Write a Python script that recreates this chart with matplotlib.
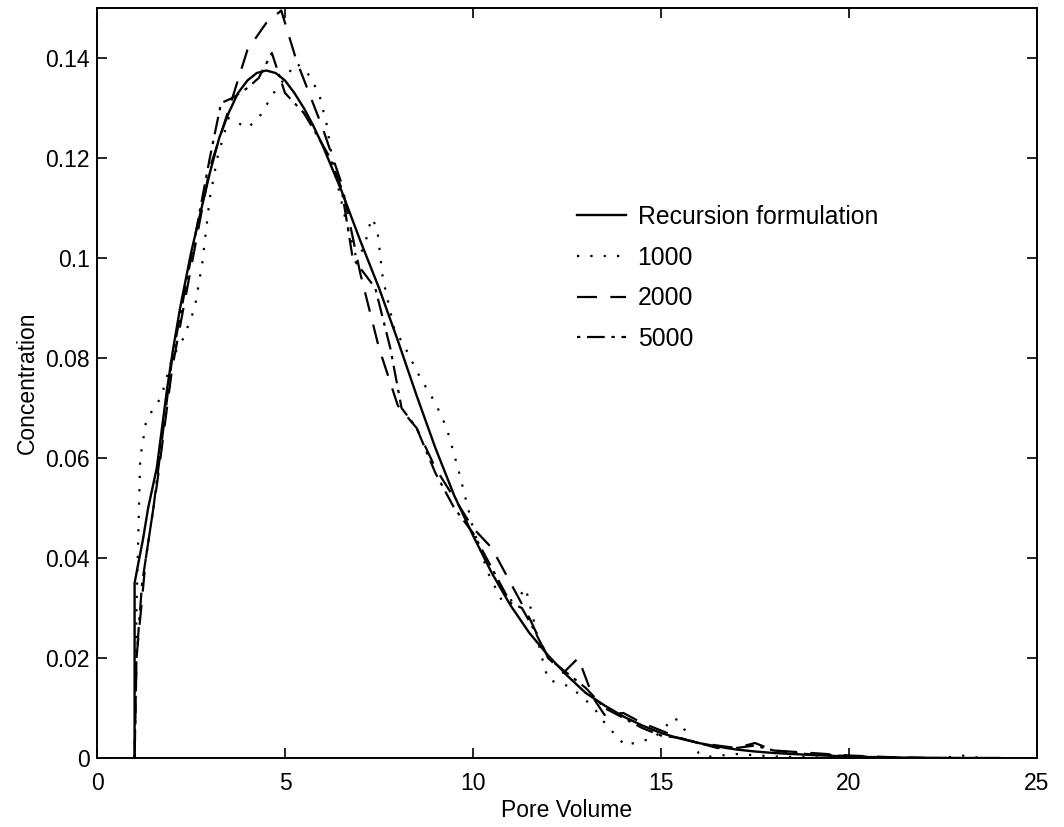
import matplotlib
matplotlib.use("Agg")
import matplotlib.pyplot as plt
from matplotlib.ticker import FuncFormatter

plt.rcParams["font.family"] = ["Liberation Sans", "DejaVu Sans"]

# recursion formulation (smooth curve)
rec_x = [1.0, 1.0, 1.1, 1.22, 1.36, 1.59, 1.86, 2.02, 2.21, 2.5, 2.75, 3.0, 3.25, 3.5,
         3.75, 4.0, 4.25, 4.5, 4.75, 5.0, 5.25, 5.5, 5.75, 6.0, 6.5, 7.0, 7.5, 8.0,
         8.5, 9.0, 9.5, 10.0, 10.5, 11.0, 11.5, 12.0, 12.5, 13.0, 13.5, 14.0, 14.5,
         15.0, 15.5, 16.0, 16.5, 17.0, 17.5, 18.0, 19.0, 20.0, 21.0, 22.0, 23.0, 24.0]
rec_y = [0.0, 0.035, 0.039, 0.0436, 0.050, 0.058, 0.0736, 0.0816, 0.090, 0.101, 0.109,
         0.117, 0.124, 0.129, 0.133, 0.1355, 0.137, 0.1375, 0.137, 0.1355, 0.133, 0.130,
         0.1265, 0.1225, 0.1135, 0.1035, 0.094, 0.0835, 0.0725, 0.062, 0.0525, 0.0445,
         0.037, 0.0305, 0.025, 0.0205, 0.0165, 0.013, 0.0105, 0.0083, 0.0065, 0.005,
         0.0039, 0.003, 0.0023, 0.0017, 0.0013, 0.001, 0.0006, 0.0003, 0.0001, 0.00005,
         0.0, 0.0]

# 1000 particles (dotted)
n1000_x = [1.0, 1.05, 1.15, 1.3, 1.5, 1.7, 2.0, 2.3, 2.6, 2.8, 3.0, 3.2, 3.5, 4.0, 4.3,
           4.7, 5.0, 5.3, 5.6, 5.9, 6.1, 6.3, 6.6, 6.9, 7.1, 7.3, 7.45, 7.6, 7.9, 8.2,
           8.6, 9.0, 9.3, 9.6, 10.0, 10.4, 10.8, 11.2, 11.4, 11.6, 11.8, 12.0, 12.3,
           12.6, 13.2, 13.6, 13.9, 14.0, 14.3, 14.8, 15.1, 15.3, 15.45, 15.6, 16.0,
           16.2, 17.0, 18.0, 20.0, 22.5, 23.0, 23.5]
n1000_y = [0.0, 0.03, 0.06, 0.067, 0.070, 0.072, 0.080, 0.084, 0.090, 0.099, 0.112,
           0.120, 0.128, 0.126, 0.128, 0.133, 0.136, 0.139, 0.137, 0.133, 0.127, 0.118,
           0.108, 0.100, 0.102, 0.108, 0.106, 0.096, 0.086, 0.082, 0.076, 0.071, 0.066,
           0.058, 0.046, 0.037, 0.031, 0.032, 0.034, 0.028, 0.021, 0.0156, 0.015, 0.0142,
           0.0102, 0.006, 0.004, 0.0026, 0.003, 0.004, 0.006, 0.008, 0.0076, 0.006,
           0.001, 0.0002, 0.0008, 0.0003, 0.0, 0.0, 0.0005, 0.0]

# 2000 particles (dashed)
n2000_x = [1.0, 1.05, 1.3, 1.6, 2.0, 2.5, 3.0, 3.5, 4.0, 4.5, 4.9, 5.3, 6.0, 6.5, 7.0,
           7.5, 8.0, 8.5, 9.0, 9.5, 10.0, 10.5, 11.0, 11.5, 12.0, 12.4, 12.8, 13.2,
           13.5, 14.0, 14.5, 15.0, 15.5, 16.0, 17.0, 17.5, 18.0, 19.0, 20.0, 21.0, 22.0]
n2000_y = [0.0, 0.02, 0.04, 0.055, 0.078, 0.098, 0.118, 0.1296, 0.1416, 0.147, 0.1495,
           0.1396, 0.126, 0.115, 0.097, 0.082, 0.0705, 0.066, 0.058, 0.052, 0.046, 0.042,
           0.035, 0.028, 0.020, 0.017, 0.020, 0.012, 0.0086, 0.009, 0.007, 0.0055, 0.004,
           0.003, 0.002, 0.003, 0.0015, 0.001, 0.0005, 0.0002, 0.0]

# 5000 particles (dash-dot)
n5000_x = [1.0, 1.05, 1.2, 1.5, 2.0, 2.5, 3.0, 3.3, 3.6, 4.0, 4.3, 4.65, 5.0, 5.5, 5.9,
           6.2, 6.5, 6.8, 7.0, 7.4, 7.8, 8.1, 8.5, 9.0, 9.5, 10.0, 10.5, 11.0, 11.3,
           11.6, 12.0, 12.5, 13.0, 13.5, 14.0, 14.5, 15.0, 15.5, 16.0, 16.5, 17.0, 17.5,
           18.0, 19.0, 20.0, 21.0, 22.0]
n5000_y = [0.0, 0.02, 0.035, 0.05, 0.08, 0.100, 0.120, 0.131, 0.132, 0.134, 0.136, 0.141,
           0.133, 0.129, 0.124, 0.120, 0.114, 0.100, 0.098, 0.094, 0.082, 0.070, 0.066,
           0.057, 0.050, 0.045, 0.038, 0.031, 0.030, 0.026, 0.020, 0.017, 0.014, 0.010,
           0.008, 0.006, 0.0045, 0.004, 0.003, 0.002, 0.002, 0.0025, 0.0015, 0.0007,
           0.0004, 0.0001, 0.0]

fig = plt.figure(figsize=(10.64, 8.27), dpi=100)
ax = fig.add_axes([97 / 1064, 1 - 758 / 827, 940 / 1064, 750 / 827])

ax.plot(rec_x, rec_y, color="black", lw=1.7, ls="-", label="Recursion formulation")
ax.plot(n1000_x, n1000_y, color="black", lw=1.6, ls=(0, (1, 5)), label="1000")
ax.plot(n2000_x, n2000_y, color="black", lw=1.6, ls=(0, (9, 6)), label="2000")
ax.plot(n5000_x, n5000_y, color="black", lw=1.6, ls=(0, (1.5, 3, 8, 3)), label="5000")

ax.set_xlim(0, 25)
ax.set_ylim(0, 0.15)
ax.set_xticks([0, 5, 10, 15, 20, 25])
ax.set_yticks([0, 0.02, 0.04, 0.06, 0.08, 0.1, 0.12, 0.14])
ax.yaxis.set_major_formatter(FuncFormatter(lambda v, p: "%g" % round(v, 2)))
ax.tick_params(direction="in", length=7, width=1.2, top=True, right=True,
               labelsize=16.5)
ax.tick_params(axis="x", pad=10)
ax.tick_params(axis="y", pad=5)
for s in ax.spines.values():
    s.set_linewidth(1.4)

ax.set_xlabel("Pore Volume", fontsize=16.5, labelpad=3)
ax.set_ylabel("Concentration", fontsize=16.5, labelpad=5)

leg = ax.legend(loc="upper left", bbox_to_anchor=(577 / 1064, 1 - 205 / 827),
                bbox_transform=fig.transFigure, frameon=False, fontsize=17.8,
                handlelength=2.0, handletextpad=0.45, labelspacing=0.675,
                borderpad=0, borderaxespad=0)

fig.savefig("out.png", dpi=100)
